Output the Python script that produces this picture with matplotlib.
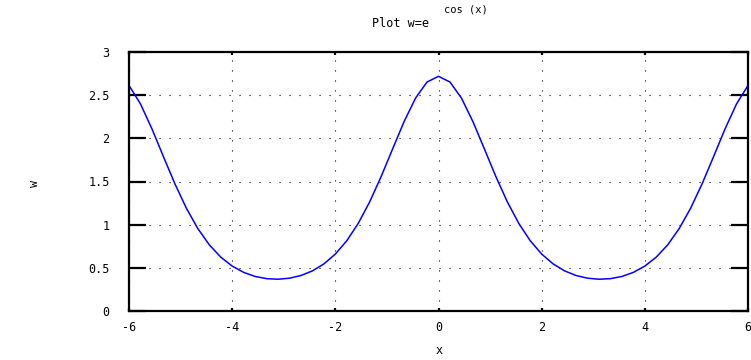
import numpy as np
import matplotlib
matplotlib.use("Agg")
import matplotlib.pyplot as plt

# sampled points of the curve (x from -6 to 6, 55 samples)
x_vals = np.linspace(-6, 6, 55)
w_half = [2.7183, 2.6523, 2.4666, 2.1944, 1.8781, 1.5584, 1.2652, 1.0153, 0.8142,
          0.6595, 0.5454, 0.4646, 0.4109, 0.3798, 0.3681, 0.3747, 0.4003, 0.4474,
          0.5202, 0.6245, 0.7674, 0.9554, 1.1919, 1.4744, 1.7892, 2.1102, 2.3988,
          2.6122]
w_vals = w_half[:0:-1] + w_half

x_ticks = [-6, -4, -2, 0, 2, 4, 6]
y_ticks = [0, 0.5, 1, 1.5, 2, 2.5, 3]
y_tick_labels = ["0", "0.5", "1", "1.5", "2", "2.5", "3"]

FONT = "DejaVu Sans Mono"
FS = 8.5

fig = plt.figure(figsize=(7.51, 3.60), dpi=100)
ax = fig.add_axes([129/751, 1-311/360, (748-129)/751, (311-52)/360])

ax.plot(x_vals, w_vals, color=(0, 0, 1), lw=1.1)
ax.set_xlim(-6, 6)
ax.set_ylim(0, 3)
ax.set_xticks(x_ticks)
ax.set_xticklabels([str(t) for t in x_ticks], family=FONT, fontsize=FS)
ax.set_yticks(y_ticks)
ax.set_yticklabels(y_tick_labels, family=FONT, fontsize=FS)

ax.grid(True, color="black", linestyle=(0, (1, 8)), linewidth=0.8)
for s in ax.spines.values():
    s.set_linewidth(1.6)
ax.tick_params(axis="y", direction="in", length=12, width=1.6, left=True, right=True, pad=14)
ax.tick_params(axis="x", direction="in", length=2.5, width=1.6, pad=7, bottom=True, top=True)

fig.text(372/751, 1-27/360, "Plot w=e", family=FONT, fontsize=FS, ha="left", va="baseline")
fig.text(444/751, 1-9/360, "cos (x)", family=FONT, fontsize=7.5, ha="left", va="center")
fig.text(439/751, 1-350/360, "x", family=FONT, fontsize=FS, ha="center", va="center")
fig.text(35/751, 1-183/360, "w", family=FONT, fontsize=FS, ha="center", va="center", rotation=90)

fig.savefig("out.png", dpi=100)
